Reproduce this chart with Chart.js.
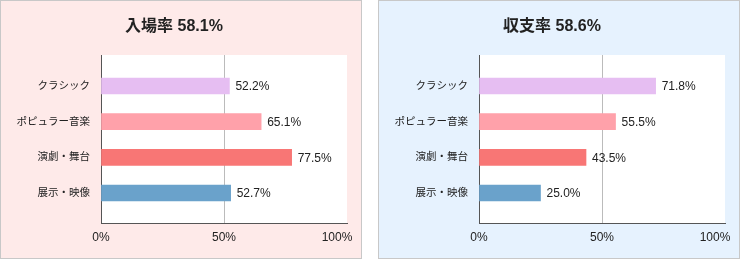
<!DOCTYPE html>
<html>
<head>
<meta charset="utf-8">
<script src="https://cdn.jsdelivr.net/npm/chart.js@4"></script>
<style>
  body { margin: 0; background: #fff; }
  .panel { position: absolute; top: 0; width: 362px; height: 259px; box-sizing: border-box; border: 1px solid #c8c8c8; }
  #p1 { left: 0; background: #feeae9; }
  #p2 { left: 378px; background: #e6f2fe; }
  canvas { display: block; }
</style>
</head>
<body>
<div class="panel" id="p1"><canvas id="attendance" width="360" height="257"></canvas></div>
<div class="panel" id="p2"><canvas id="balance" width="360" height="257"></canvas></div>
<script>
var categories = ["クラシック", "ポピュラー音楽", "演劇・舞台", "展示・映像"];
var attendanceValues = [52.2, 65.1, 77.5, 52.7];
var balanceValues = [71.8, 55.5, 43.5, 25.0];
var barColors = ["#e6bef2", "#ffa1aa", "#f87675", "#6aa2cb"];
var xTicks = [0, 50, 100];
var attendanceTitle = "入場率 58.1%";
var balanceTitle = "収支率 58.6%";

var fontFamily = "'Liberation Sans', 'Noto Sans CJK JP', sans-serif";

// white plot area behind the bars
var plotBackground = {
    id: "plotBackground",
    beforeDraw: function (chart) {
        var a = chart.chartArea;
        var ctx = chart.ctx;
        ctx.save();
        ctx.fillStyle = "#fff";
        ctx.fillRect(a.left, a.top, a.right - a.left, a.bottom - a.top);
        ctx.restore();
    }
};

// value text after each bar
var valueLabels = {
    id: "valueLabels",
    afterDatasetsDraw: function (chart) {
        var ctx = chart.ctx;
        var ds = chart.data.datasets[0];
        ctx.save();
        ctx.font = "12px " + fontFamily;
        ctx.fillStyle = "#222";
        ctx.textBaseline = "middle";
        chart.getDatasetMeta(0).data.forEach(function (bar, i) {
            ctx.fillText(ds.data[i].x.toFixed(1) + "%", bar.x + 6, bar.y + 1);
        });
        ctx.restore();
    }
};

function makeChart(id, title, values) {
    var ctx = document.getElementById(id).getContext("2d");
    return new Chart(ctx, {
        type: "bar",
        data: {
            datasets: [{
                data: values.map(function (v, i) { return { x: v, y: i }; }),
                backgroundColor: barColors,
                borderWidth: 0,
                barThickness: 16
            }]
        },
        options: {
            indexAxis: "y",
            responsive: false,
            animation: false,
            layout: { padding: { top: 0, right: 14, bottom: 0, left: 0 } },
            plugins: {
                legend: { display: false },
                tooltip: { enabled: false },
                title: {
                    display: true,
                    text: title,
                    color: "#222",
                    font: { family: fontFamily, size: 16, weight: "bold", lineHeight: 1.2 },
                    padding: { top: 16, bottom: 18.8 }
                }
            },
            scales: {
                x: {
                    type: "linear",
                    min: 0,
                    max: 100,
                    afterBuildTicks: function (s) {
                        s.ticks = xTicks.map(function (v) { return { value: v }; });
                    },
                    afterFit: function (s) {
                        s.height = 35;
                        s.paddingLeft = 0;
                        s.paddingRight = 0;
                    },
                    grid: {
                        drawTicks: false,
                        color: function (c) { return c.tick && c.tick.value === 50 ? "#bbb" : "rgba(0,0,0,0)"; }
                    },
                    border: { display: true, color: "#555", width: 1 },
                    ticks: {
                        padding: 7,
                        color: "#222",
                        font: { family: fontFamily, size: 12 },
                        callback: function (v) {
                            return v === 100 ? v + "%\u00a0\u00a0\u00a0\u00a0\u00a0\u00a0" : v + "%";
                        }
                    }
                },
                y: {
                    type: "linear",
                    reverse: true,
                    offset: false,
                    min: -0.87,
                    max: 3.84,
                    afterBuildTicks: function (s) {
                        s.ticks = categories.map(function (c, i) { return { value: i }; });
                    },
                    afterFit: function (s) { s.width = 100; },
                    grid: { display: false, offset: false },
                    border: { display: true, color: "#555", width: 1 },
                    ticks: {
                        padding: 3,
                        color: "#222",
                        font: { family: fontFamily, size: 10.5 },
                        callback: function (v) { return categories[v]; }
                    }
                }
            }
        },
        plugins: [plotBackground, valueLabels]
    });
}

makeChart("attendance", attendanceTitle, attendanceValues);
makeChart("balance", balanceTitle, balanceValues);
</script>
</body>
</html>
